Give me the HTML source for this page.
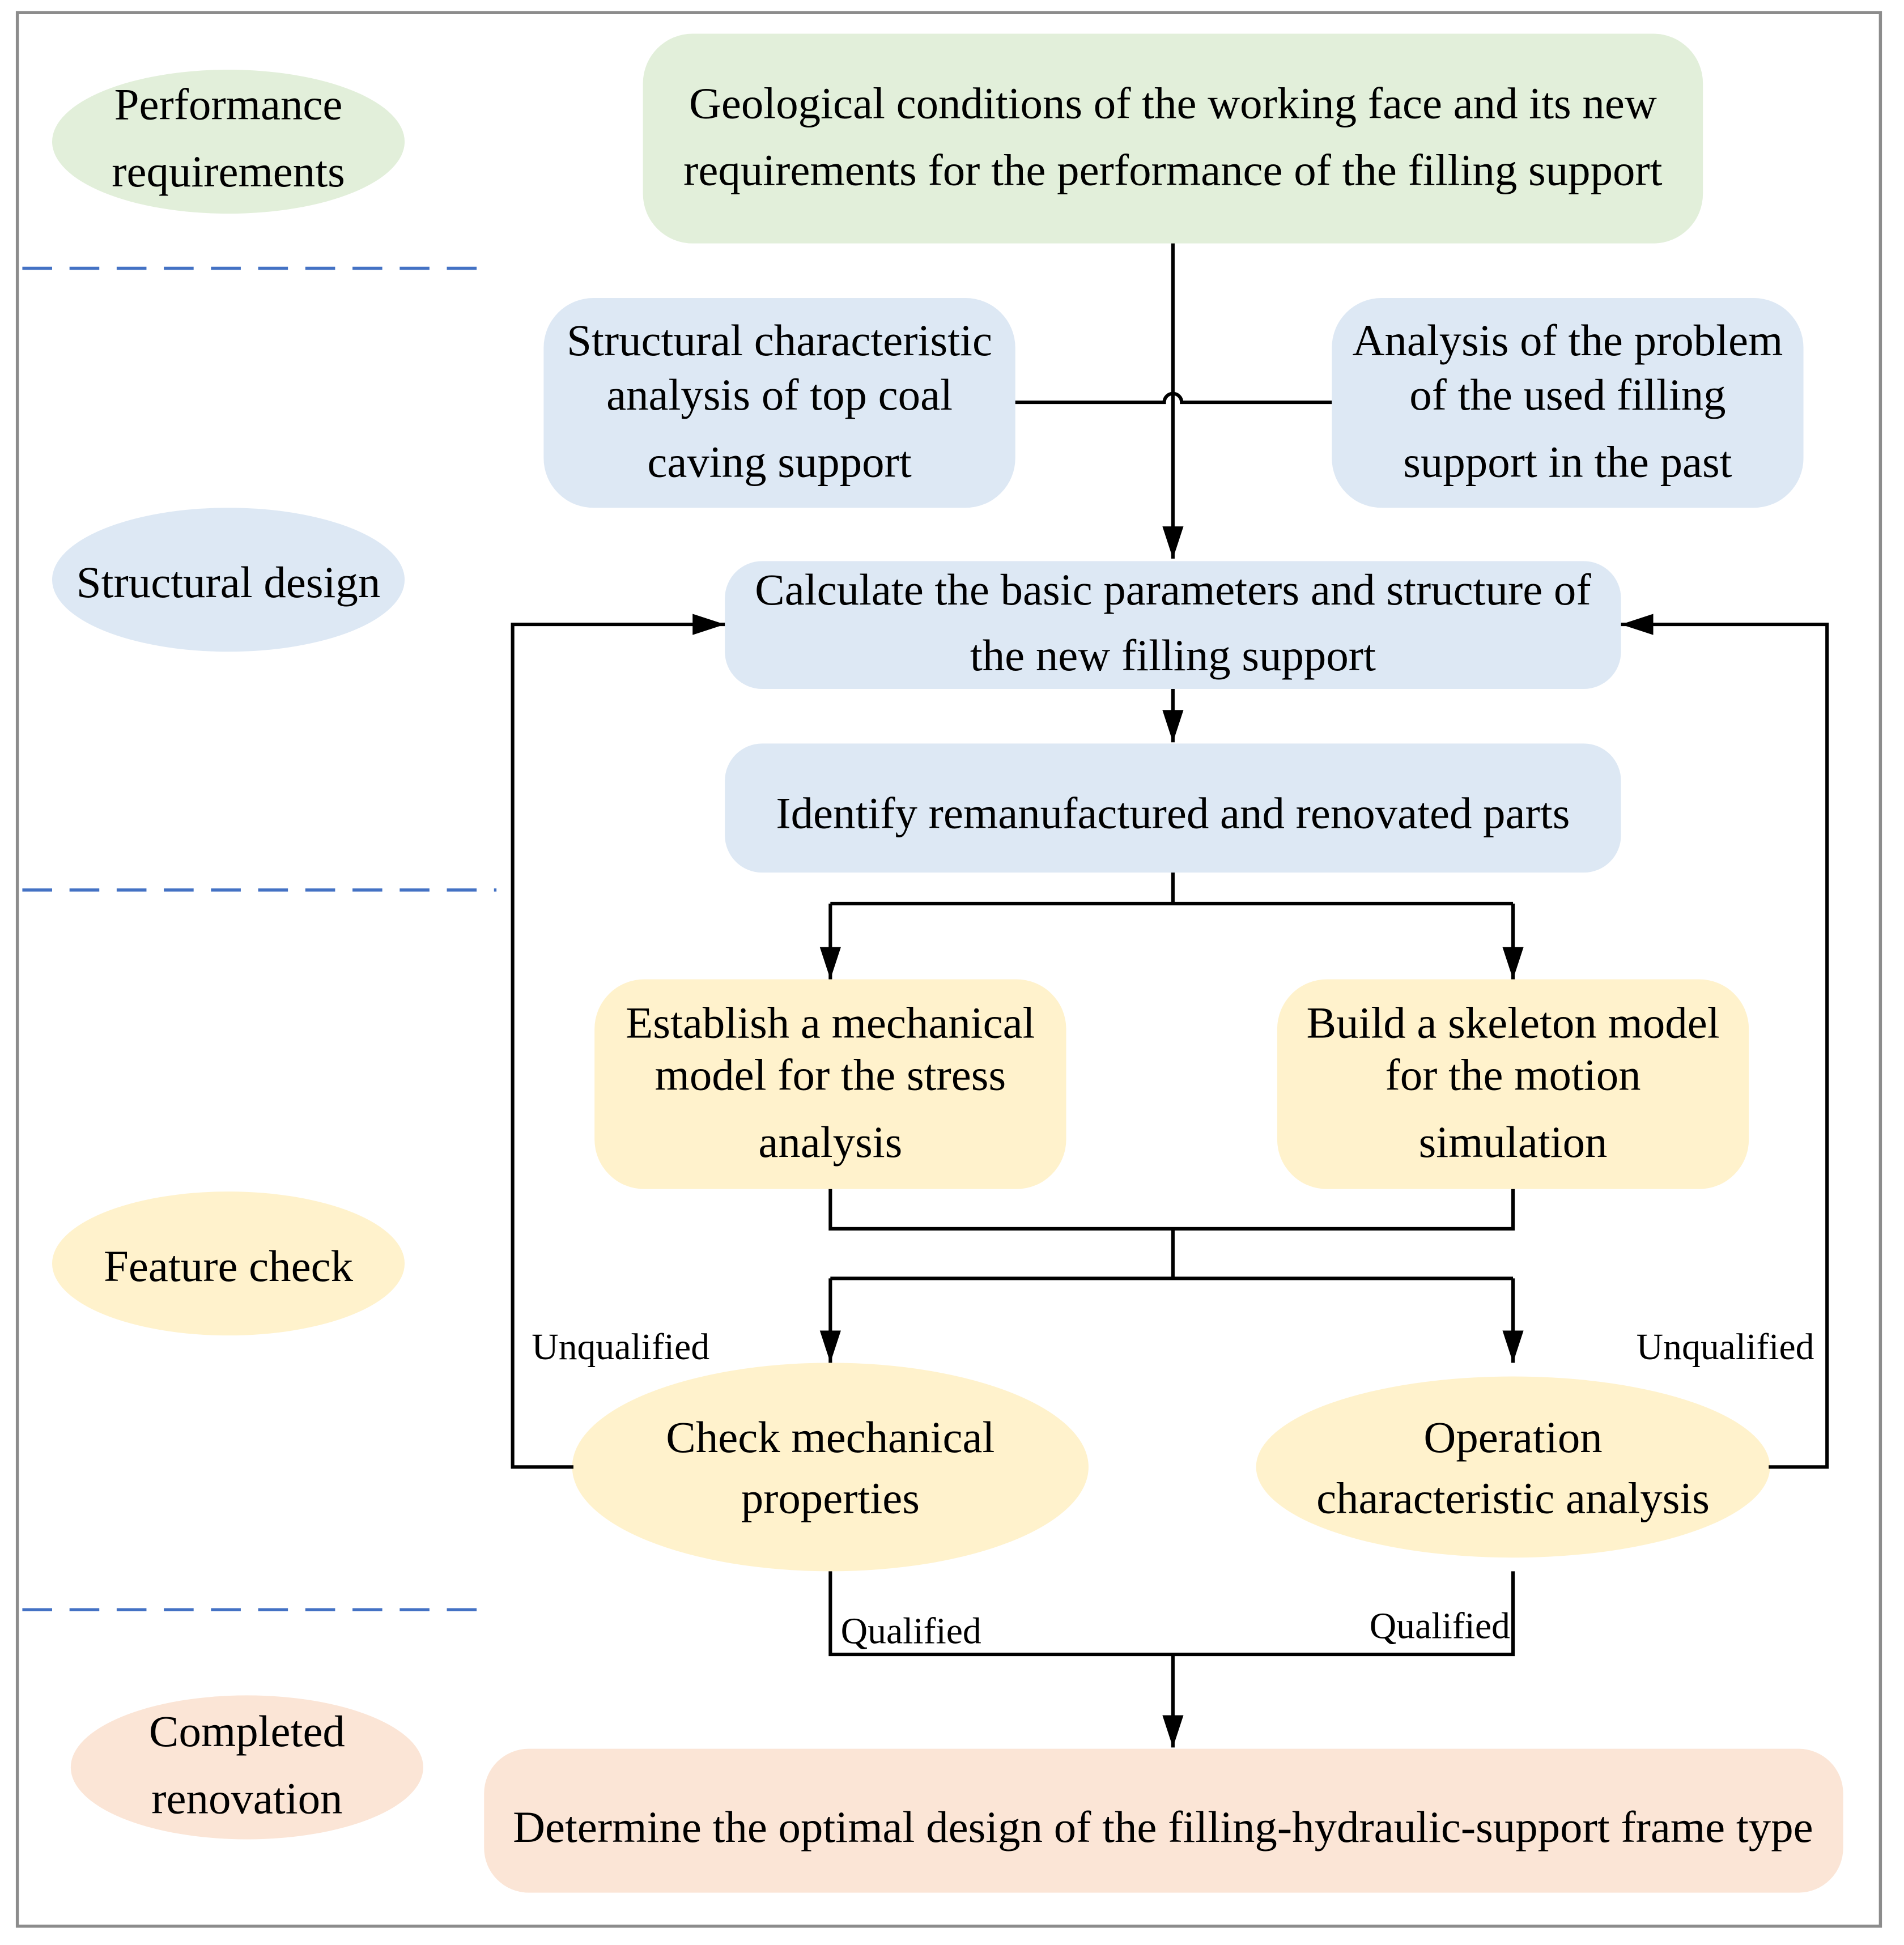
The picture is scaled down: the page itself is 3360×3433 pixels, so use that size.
<!DOCTYPE html>
<html><head><meta charset="utf-8"><style>
html,body{margin:0;padding:0;background:#fff}
svg{display:block}
text{font-family:"Liberation Serif",serif;fill:#000}
</style></head><body>
<svg width="3360" height="3433" viewBox="0 0 1534 1567" xmlns="http://www.w3.org/2000/svg">
<defs>
<marker id="b" viewBox="0 0 26 17" refX="26" refY="8.5" markerWidth="26" markerHeight="17" orient="auto" markerUnits="userSpaceOnUse"><path d="M0,0 L26,8.5 L0,17 Z" fill="#000"/></marker></defs>
<rect x="14" y="10" width="1501" height="1542" fill="#fff" stroke="#8c8c8c" stroke-width="2.5"/>
<g fill="none" stroke="#4472c4" stroke-width="2.5" stroke-dasharray="24,14">
<line x1="18" y1="216" x2="390" y2="216"/><line x1="18" y1="717" x2="400" y2="717"/><line x1="18" y1="1297" x2="398" y2="1297"/></g>
<ellipse cx="184" cy="114" rx="142" ry="58" fill="#e2efda"/>
<ellipse cx="184" cy="467" rx="142" ry="58" fill="#dde8f4"/>
<ellipse cx="184" cy="1018" rx="142" ry="58" fill="#fff2cc"/>
<ellipse cx="199" cy="1424" rx="142" ry="58" fill="#fbe5d6"/>
<g font-size="36" text-anchor="middle">
<text x="184" y="96">Performance</text><text x="184" y="150">requirements</text>
<text x="184" y="481">Structural design</text>
<text x="184" y="1032">Feature check</text>
<text x="199" y="1407">Completed</text><text x="199" y="1461">renovation</text>
</g>
<rect x="518" y="27" width="854" height="169" rx="40" fill="#e2efda"/>
<rect x="438" y="240" width="380" height="169" rx="40" fill="#dde8f4"/>
<rect x="1073" y="240" width="380" height="169" rx="40" fill="#dde8f4"/>
<rect x="584" y="452" width="722" height="103" rx="30" fill="#dde8f4"/>
<rect x="584" y="599" width="722" height="104" rx="30" fill="#dde8f4"/>
<rect x="479" y="789" width="380" height="169" rx="40" fill="#fff2cc"/>
<rect x="1029" y="789" width="380" height="169" rx="40" fill="#fff2cc"/>
<ellipse cx="669" cy="1182" rx="208" ry="84" fill="#fff2cc"/>
<ellipse cx="1219" cy="1182" rx="207" ry="73" fill="#fff2cc"/>
<rect x="390" y="1409" width="1095" height="116" rx="36" fill="#fbe5d6"/>
<g fill="none" stroke="#000" stroke-width="2.8">
<path d="M945,196 V450" marker-end="url(#b)"/>
<path d="M818,324 H938 A7,7 0 0 1 952,324 H1073"/>
<path d="M945,555 V598" marker-end="url(#b)"/>
<path d="M945,703 V728 M669,728 H1219"/>
<path d="M669,728 V789" marker-end="url(#b)"/>
<path d="M1219,728 V789" marker-end="url(#b)"/>
<path d="M669,958 V990 H1219 V958 M945,990 V1030 M669,1030 H1219"/>
<path d="M669,1030 V1098" marker-end="url(#b)"/>
<path d="M1219,1030 V1098" marker-end="url(#b)"/>
<path d="M462,1182 H413 V503 H584" marker-end="url(#b)"/>
<path d="M1425,1182 H1472 V503 H1306" marker-end="url(#b)"/>
<path d="M669,1266 V1333 H1219 V1266"/>
<path d="M945,1333 V1408" marker-end="url(#b)"/>
</g>
<g font-size="36" text-anchor="middle">
<text x="945" y="95">Geological conditions of the working face and its new</text>
<text x="945" y="149">requirements for the performance of the filling support</text>
<text x="628" y="286">Structural characteristic</text><text x="628" y="330">analysis of top coal</text><text x="628" y="384">caving support</text>
<text x="1263" y="286">Analysis of the problem</text><text x="1263" y="330">of the used filling</text><text x="1263" y="384">support in the past</text>
<text x="945" y="487">Calculate the basic parameters and structure of</text>
<text x="945" y="540">the new filling support</text>
<text x="945" y="667">Identify remanufactured and renovated parts</text>
<text x="669" y="836">Establish a mechanical</text><text x="669" y="878">model for the stress</text><text x="669" y="932">analysis</text>
<text x="1219" y="836">Build a skeleton model</text><text x="1219" y="878">for the motion</text><text x="1219" y="932">simulation</text>
<text x="669" y="1170">Check mechanical</text><text x="669" y="1219">properties</text>
<text x="1219" y="1170">Operation</text><text x="1219" y="1219">characteristic analysis</text>
<text x="937" y="1484">Determine the optimal design of the filling-hydraulic-support frame type</text>
</g>
<g font-size="30" text-anchor="middle">
<text x="500" y="1095">Unqualified</text>
<text x="1390" y="1095">Unqualified</text>
<text x="734" y="1324">Qualified</text>
<text x="1160" y="1320">Qualified</text>
</g>
</svg>
</body></html>
